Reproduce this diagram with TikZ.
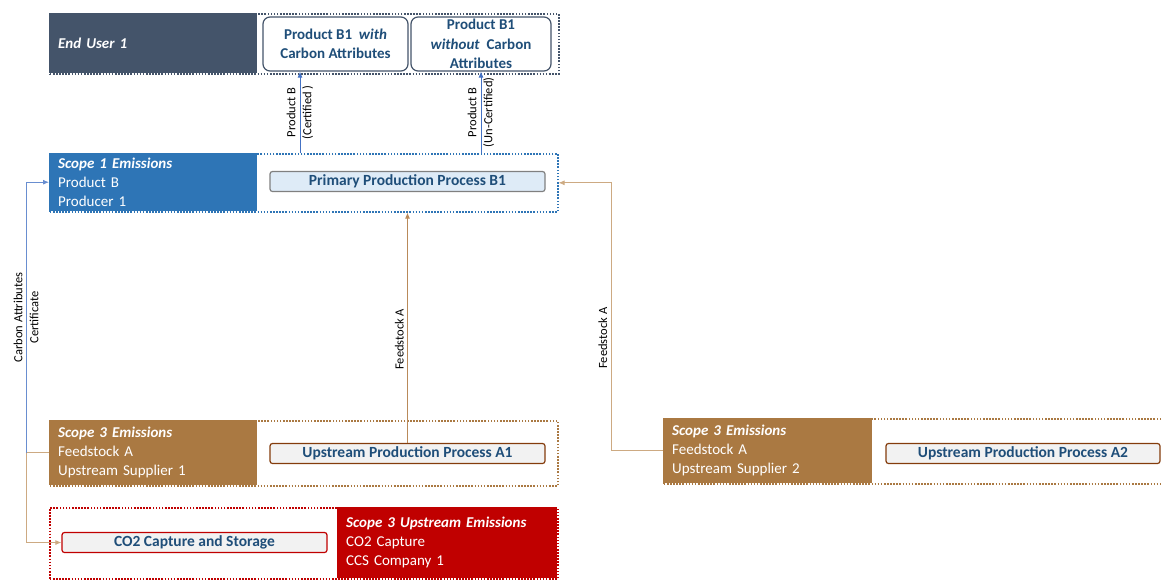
\documentclass[tikz,border=0pt]{standalone}
\usepackage{fontspec}
\setmainfont{Carlito}
\usetikzlibrary{arrows.meta}

\definecolor{slate}{HTML}{44546A}
\definecolor{scopeblue}{HTML}{2E75B6}
\definecolor{scopebrown}{RGB}{170,121,66}
\definecolor{scopered}{HTML}{C00000}
\definecolor{boxtext}{HTML}{1F4E79}
\definecolor{boxblue}{HTML}{DEEBF7}
\definecolor{boxgray}{HTML}{F2F2F2}
\definecolor{boxbrown}{HTML}{843C0C}
\definecolor{arrowblue}{HTML}{4472C4}
\definecolor{arrowbrown}{RGB}{185,138,90}
\definecolor{arrowtan}{RGB}{205,170,130}

\tikzset{
  frame/.style={anchor=north west, draw, line width=1.6pt, dash pattern=on 1.6pt off 1.5pt},
  panel/.style={anchor=north west, text=white, align=left, inner xsep=9pt, inner ysep=0pt,
    font=\fontsize{15}{19}\selectfont},
  prodbox/.style={draw=slate, fill=white, rounded corners=7pt, line width=1.2pt, minimum height=54,
    text=boxtext, align=center, inner sep=0pt, font=\bfseries\fontsize{15}{19.5}\selectfont},
  procbox/.style={rounded corners=2.5pt, line width=1.2pt, minimum height=20, inner sep=0pt,
    text height=10pt, text depth=2pt, text=boxtext, font=\bfseries\fontsize{15.5}{16}\selectfont},
  flowlabel/.style={rotate=90, align=center, text=black, font=\fontsize{12.5}{16}\selectfont},
  flow/.style={line width=0.8pt, -{Latex[length=6pt,width=5pt]}}
}

\begin{document}
\begin{tikzpicture}[x=1pt, y=-1pt]
\useasboundingbox (0,0) rectangle (1162,579);

% end user
\node[frame, draw=slate, minimum width=509, minimum height=60] (userframe) at (49,13) {};
\node[panel, fill=slate, minimum width=208, minimum height=60, text width=190] (enduser) at (49,13) {\textbf{\textit{End User 1}}};
\node[prodbox, minimum width=145] (withca) at (335.5,44) {Product B1 \ \textit{with}\\Carbon Attributes};
\node[prodbox, minimum width=140] (withoutca) at (481,44) {Product B1\\\textit{without} \ Carbon\\Attributes};

% scope 1
\node[frame, draw=scopeblue, minimum width=508, minimum height=58] (s1frame) at (49,153) {};
\node[panel, fill=scopeblue, minimum width=208, minimum height=58, text width=190] (scope1) at (49,153) {\textbf{\textit{Scope 1 Emissions}}\\Product B\\Producer 1};
\node[procbox, fill=boxblue, draw=gray, minimum width=275] (primary) at (407.5,181.5) {Primary Production Process B1};

% scope 3, supplier 1
\node[frame, draw=scopebrown, minimum width=508, minimum height=65] (s3frame) at (49,420) {};
\node[panel, fill=scopebrown, minimum width=208, minimum height=65, text width=190] (supp1) at (49,420) {\textbf{\textit{Scope 3 Emissions}}\\Feedstock A\\Upstream Supplier 1};
\node[procbox, fill=boxgray, draw=boxbrown, minimum width=275] (upA1) at (407.5,453.5) {Upstream Production Process A1};

% scope 3, supplier 2
\node[frame, draw=scopebrown, minimum width=520, minimum height=65] (s3frameb) at (663,418) {};
\node[panel, fill=scopebrown, minimum width=209, minimum height=65, text width=191] (supp2) at (663,418) {\textbf{\textit{Scope 3 Emissions}}\\Feedstock A\\Upstream Supplier 2};
\node[procbox, fill=boxgray, draw=boxbrown, minimum width=274] (upA2) at (1023,453.5) {Upstream Production Process A2};

% ccs
\node[frame, draw=scopered, minimum width=508, minimum height=71] (ccsframe) at (49,507) {};
\node[panel, fill=scopered, minimum width=220, minimum height=71, text width=202] (ccs) at (337,507) {\textbf{\textit{Scope 3 Upstream Emissions}}\\CO2 Capture\\CCS Company 1};
\node[procbox, fill=boxgray, draw=scopered, minimum width=265] (co2box) at (194.5,542.5) {CO2 Capture and Storage};

% flows
\draw[flow, arrowblue] ([xshift=-35.5pt]withca.south |- s1frame.north) -- ([xshift=-35.5pt]withca.south)
  node[flowlabel, midway] {Product B\\(Certified )};
\draw[flow, arrowblue] (withoutca.south |- s1frame.north) -- (withoutca.south)
  node[flowlabel, midway] {Product B\\(Un-Certified)};
\draw[flow, arrowbrown] (upA1.north) -- (upA1.north |- s1frame.south)
  node[flowlabel, pos=0.45, anchor=south] {Feedstock A};
\draw[flow, arrowtan] (supp2.west) -- ++(-52,0) coordinate (bendb) -- (bendb |- s1frame.east)
  node[flowlabel, pos=0.42, anchor=south] {Feedstock A} -- (s1frame.east);
\draw[flow, arrowtan] (supp1.west) -- ++(-23,0) coordinate (junc) |- (co2box.west);
\draw[flow, arrowblue!80] (junc) |- (scope1.west)
  node[flowlabel, pos=0.25] {Carbon Attributes\\Certificate};
\end{tikzpicture}
\end{document}
